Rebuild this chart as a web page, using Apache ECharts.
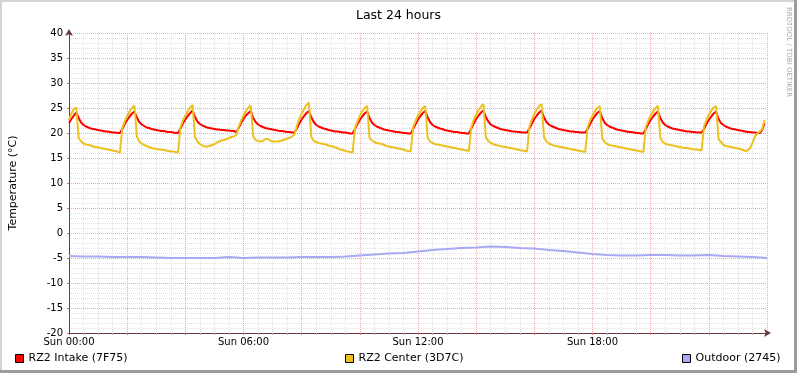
<!DOCTYPE html>
<html><head><meta charset="utf-8">
<script src="https://cdn.jsdelivr.net/npm/echarts@6/dist/echarts.min.js"></script>
<style>html,body{margin:0;padding:0;background:#fff}#c{width:797px;height:373px}</style>
</head><body><div id="c"></div>
<script>
// x tick labels (every 6 hours = 360 minutes)
const xTickLabels = ['Sun 00:00', 'Sun 06:00', 'Sun 12:00', 'Sun 18:00'];
const sampleStepMin = 5;     // Intake / Center sampled every 5 minutes
const outdoorStepMin = 30;   // Outdoor sampled every 30 minutes

const seriesNames = ['RZ2 Intake (7F75)', 'RZ2 Center (3D7C)', 'Outdoor (2745)'];

const intake = [
  22.0, 22.8, 23.5, 24.1,
  23.0, 22.1, 21.6, 21.3, 21.1, 20.9, 20.8, 20.7, 20.6, 20.5, 20.4, 20.3, 20.3, 20.2, 20.1, 20.1, 20.0, 20.0,
  20.8, 21.8, 22.6, 23.3, 23.9, 24.3,
  23.1, 22.2, 21.7, 21.4, 21.1, 21.0, 20.8, 20.7, 20.6, 20.5, 20.4, 20.4, 20.3, 20.2, 20.2, 20.1, 20.0, 20.0,
  20.9, 21.9, 22.7, 23.4, 24.0, 24.5,
  23.2, 22.3, 21.8, 21.5, 21.3, 21.1, 21.0, 20.9, 20.8, 20.7, 20.7, 20.6, 20.6, 20.5, 20.5, 20.4, 20.4, 20.2,
  21.0, 22.0, 22.8, 23.5, 24.0, 24.4,
  23.0, 22.2, 21.7, 21.4, 21.2, 21.0, 20.9, 20.8, 20.7, 20.6, 20.5, 20.4, 20.4, 20.3, 20.2, 20.2, 20.1, 20.1,
  20.9, 21.9, 22.7, 23.4, 24.0, 24.4,
  23.1, 22.2, 21.6, 21.3, 21.1, 20.9, 20.8, 20.6, 20.5, 20.4, 20.3, 20.3, 20.2, 20.1, 20.1, 20.0, 19.9, 19.9,
  20.8, 21.8, 22.6, 23.3, 23.9, 24.3,
  23.0, 22.1, 21.6, 21.3, 21.1, 20.9, 20.7, 20.6, 20.5, 20.4, 20.3, 20.2, 20.2, 20.1, 20.0, 20.0, 19.9, 19.9,
  20.8, 21.8, 22.7, 23.4, 24.0, 24.4,
  23.1, 22.2, 21.6, 21.3, 21.1, 20.9, 20.8, 20.6, 20.5, 20.4, 20.3, 20.2, 20.2, 20.1, 20.0, 20.0, 19.9, 19.9,
  20.9, 21.9, 22.8, 23.5, 24.1, 24.5,
  23.2, 22.3, 21.7, 21.4, 21.2, 21.0, 20.8, 20.7, 20.6, 20.5, 20.4, 20.3, 20.3, 20.2, 20.2, 20.1, 20.1, 20.1,
  20.9, 21.9, 22.8, 23.5, 24.1, 24.5,
  23.1, 22.2, 21.7, 21.4, 21.2, 21.0, 20.8, 20.7, 20.6, 20.5, 20.4, 20.3, 20.3, 20.2, 20.2, 20.1, 20.1, 20.1,
  20.8, 21.8, 22.7, 23.4, 24.0, 24.4,
  23.0, 22.1, 21.6, 21.3, 21.1, 20.9, 20.7, 20.6, 20.5, 20.4, 20.3, 20.2, 20.2, 20.1, 20.0, 20.0, 19.9, 19.9,
  20.8, 21.8, 22.6, 23.3, 23.9, 24.3,
  23.0, 22.1, 21.6, 21.3, 21.1, 20.9, 20.8, 20.7, 20.6, 20.5, 20.4, 20.3, 20.3, 20.2, 20.2, 20.1, 20.1, 20.1,
  20.8, 21.8, 22.6, 23.3, 23.9, 24.3,
  22.8, 22.0, 21.6, 21.3, 21.1, 20.9, 20.8, 20.7, 20.6, 20.5, 20.4, 20.3, 20.2, 20.2, 20.1, 20.1, 20.0, 20.0, 20.6, 21.9
];

const center = [
  22.6, 23.9, 24.8, 25.1,
  19.0, 18.3, 17.9, 17.7, 17.6, 17.5, 17.3, 17.2, 17.1, 17.0, 16.9, 16.8, 16.7, 16.6, 16.5, 16.4, 16.3, 16.0,
  21.0, 22.3, 23.4, 24.3, 25.0, 25.5,
  19.3, 18.3, 17.9, 17.6, 17.4, 17.2, 17.0, 16.9, 16.8, 16.7, 16.7, 16.6, 16.5, 16.4, 16.3, 16.3, 16.2, 16.1,
  21.2, 22.5, 23.5, 24.4, 25.1, 25.6,
  19.2, 18.3, 17.8, 17.5, 17.3, 17.3, 17.4, 17.6, 17.8, 18.1, 18.3, 18.5, 18.6, 18.8, 19.0, 19.2, 19.3, 19.6,
  21.2, 22.5, 23.5, 24.4, 25.1, 25.5,
  19.3, 18.6, 18.4, 18.3, 18.4, 18.8, 18.8, 18.5, 18.3, 18.3, 18.3, 18.4, 18.5, 18.7, 18.9, 19.0, 19.3, 19.7,
  21.4, 22.8, 23.9, 24.8, 25.6, 26.1,
  19.2, 18.4, 18.2, 18.0, 17.9, 17.8, 17.7, 17.5, 17.4, 17.3, 17.1, 16.9, 16.7, 16.6, 16.4, 16.3, 16.2, 16.1,
  21.0, 22.3, 23.4, 24.3, 25.0, 25.4,
  19.0, 18.5, 18.2, 18.0, 17.9, 17.8, 17.6, 17.4, 17.3, 17.2, 17.1, 17.0, 16.9, 16.8, 16.7, 16.5, 16.4, 16.3,
  21.2, 22.4, 23.5, 24.3, 25.0, 25.4,
  19.0, 18.3, 18.0, 17.8, 17.7, 17.6, 17.5, 17.4, 17.3, 17.2, 17.1, 17.0, 16.9, 16.8, 16.7, 16.6, 16.5, 16.4,
  21.2, 22.6, 23.7, 24.6, 25.3, 25.8,
  19.2, 18.4, 18.0, 17.8, 17.6, 17.5, 17.4, 17.3, 17.2, 17.1, 17.0, 16.9, 16.8, 16.7, 16.6, 16.5, 16.4, 16.3,
  21.3, 22.7, 23.8, 24.7, 25.4, 25.8,
  19.2, 18.3, 17.9, 17.7, 17.5, 17.4, 17.3, 17.2, 17.1, 17.0, 16.9, 16.8, 16.7, 16.6, 16.5, 16.4, 16.3, 16.2,
  21.2, 22.5, 23.5, 24.4, 25.0, 25.4,
  19.0, 18.2, 17.8, 17.6, 17.5, 17.4, 17.3, 17.2, 17.1, 17.0, 16.9, 16.8, 16.7, 16.6, 16.5, 16.4, 16.3, 16.2,
  21.2, 22.5, 23.5, 24.4, 25.0, 25.4,
  19.0, 18.2, 17.9, 17.7, 17.6, 17.5, 17.4, 17.3, 17.2, 17.1, 17.0, 17.0, 16.9, 16.8, 16.7, 16.7, 16.6, 16.5,
  21.3, 22.6, 23.6, 24.5, 25.1, 25.4,
  18.8, 18.2, 17.6, 17.4, 17.3, 17.2, 17.1, 17.0, 16.9, 16.8, 16.6, 16.4, 16.5, 17.0, 18.0, 19.3, 19.9, 20.3, 20.8, 22.6
];

const outdoor = [
  -4.6, -4.7, -4.7, -4.8, -4.8, -4.8, -4.9, -5.0, -5.0, -5.0, -5.0, -4.8,
  -5.0, -4.9, -4.9, -4.9, -4.8, -4.8, -4.8, -4.7, -4.5, -4.3, -4.1, -4.0,
  -3.7, -3.4, -3.2, -3.0, -2.9, -2.7, -2.8, -3.0, -3.1, -3.4, -3.6, -3.9,
  -4.2, -4.4, -4.5, -4.5, -4.4, -4.4, -4.5, -4.5, -4.4, -4.6, -4.7, -4.8, -5.0
];

const FONT = 'DejaVu Sans';
const colIntake = '#FF0000', colCenter = '#EBC11F', colOutdoor = '#A8A8F4';
const gridMajor = '#F0A8A8', gridMinor = '#E2E2E2';
const axisCol = '#6a3a3a';

const chart = echarts.init(document.getElementById('c'), null, {renderer: 'canvas'});
const legendBase = {
  top: 353, padding: 0, icon: 'rect', itemWidth: 8, itemHeight: 8, selectedMode: false,
  itemStyle: {borderColor: '#000', borderWidth: 1},
  textStyle: {fontFamily: FONT, fontSize: 11, color: '#000'}
};
chart.setOption({
  animation: false,
  backgroundColor: '#ffffff',
  title: {text: 'Last 24 hours', left: 'center', top: 4,
    textStyle: {fontFamily: FONT, fontSize: 12.5, fontWeight: 'normal', color: '#000'}},
  legend: [
    Object.assign({}, legendBase, {left: 15, data: [seriesNames[0]]}),
    Object.assign({}, legendBase, {left: 345, data: [seriesNames[1]]}),
    Object.assign({}, legendBase, {left: 682, data: [seriesNames[2]]})
  ],
  grid: {left: 67, right: 30, top: 33, bottom: 40, containLabel: false},
  xAxis: [
    {type: 'value', position: 'bottom', min: 0, max: 1440, interval: 360,
      axisLine: {show: true, onZero: false, lineStyle: {color: axisCol, width: 1},
        symbol: ['none', 'arrow'], symbolSize: [6, 7], symbolOffset: [0, 4]},
      axisTick: {show: false},
      axisLabel: {margin: 4, fontFamily: FONT, fontSize: 10, color: '#000',
        formatter: v => xTickLabels[Math.round(v / 360)] || ''},
      splitLine: {show: false}},
    {type: 'value', position: 'bottom', min: 0, max: 1440, interval: 120,
      axisLine: {show: false, onZero: false}, axisLabel: {show: false},
      axisTick: {show: true, inside: false, length: 2, lineStyle: {color: 'rgba(220,70,70,0.8)'}},
      minorTick: {show: true, splitNumber: 4, length: 2, lineStyle: {color: '#aaa'}},
      splitLine: {show: true, lineStyle: {color: gridMajor, type: 'dotted', width: 1}},
      minorSplitLine: {show: true, lineStyle: {color: gridMinor, type: 'dotted', width: 1}}}
  ],
  yAxis: {type: 'value', min: -20, max: 40, interval: 5,
    name: 'Temperature (°C)', nameLocation: 'middle', nameGap: 50, nameRotate: 90,
    nameTextStyle: {fontFamily: FONT, fontSize: 11, color: '#000'},
    axisLine: {show: true, onZero: false, lineStyle: {color: axisCol, width: 1},
      symbol: ['none', 'arrow'], symbolSize: [6, 7], symbolOffset: [0, 4]},
    axisTick: {show: true, length: 2, lineStyle: {color: 'rgba(220,70,70,0.8)'}},
    minorTick: {show: false, splitNumber: 5},
    axisLabel: {margin: 6, fontFamily: FONT, fontSize: 10, color: '#000'},
    splitLine: {show: true, lineStyle: {color: gridMajor, type: 'dotted', width: 1}},
    minorSplitLine: {show: true, lineStyle: {color: gridMinor, type: 'dotted', width: 1}}},
  series: [
    {name: seriesNames[0], type: 'line', xAxisIndex: 0, showSymbol: false, symbol: 'none',
      color: colIntake, lineStyle: {color: colIntake, width: 2},
      data: intake.map((v, i) => [i * sampleStepMin, v])},
    {name: seriesNames[1], type: 'line', xAxisIndex: 0, showSymbol: false, symbol: 'none',
      color: colCenter, lineStyle: {color: colCenter, width: 2},
      data: center.map((v, i) => [i * sampleStepMin, v])},
    {name: seriesNames[2], type: 'line', xAxisIndex: 0, showSymbol: false, symbol: 'none',
      color: colOutdoor, lineStyle: {color: colOutdoor, width: 2},
      data: outdoor.map((v, i) => [i * outdoorStepMin, v])}
  ],
  graphic: [
    {type: 'rect', shape: {x: 0, y: 0, width: 797, height: 2}, style: {fill: '#d4d4d4'}, silent: true},
    {type: 'rect', shape: {x: 0, y: 0, width: 2, height: 373}, style: {fill: '#d4d4d4'}, silent: true},
    {type: 'rect', shape: {x: 794, y: 0, width: 3, height: 373}, style: {fill: '#9c9c9c'}, silent: true},
    {type: 'rect', shape: {x: 0, y: 370, width: 797, height: 3}, style: {fill: '#9c9c9c'}, silent: true},
    {type: 'text', x: 789, y: 52, rotation: -Math.PI / 2, silent: true,
      style: {text: 'RRDTOOL / TOBI OETIKER', fill: '#aaaaaa', font: '7px "DejaVu Sans"',
        align: 'center', verticalAlign: 'middle'}}
  ]
});
</script>
</body></html>
